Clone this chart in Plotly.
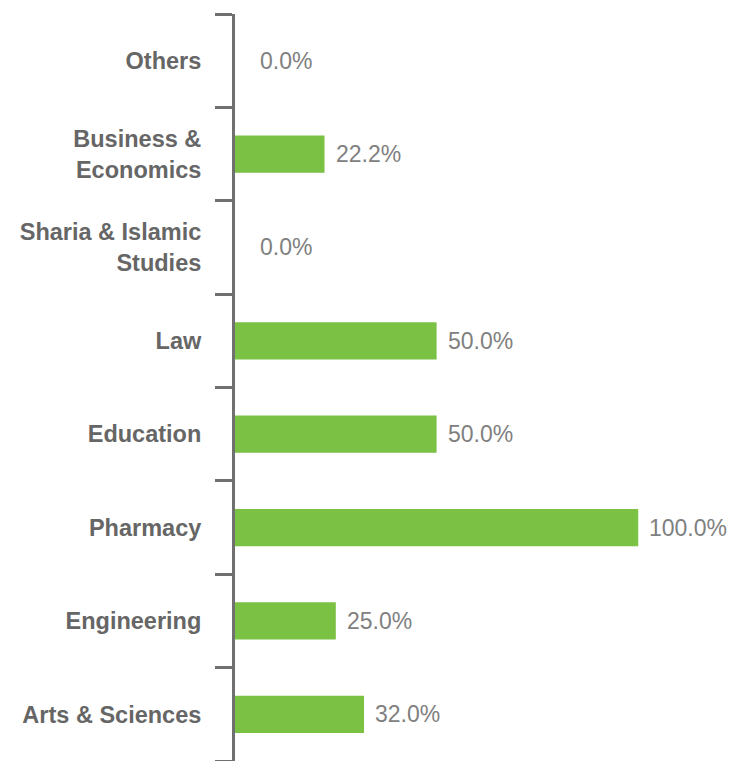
import plotly.graph_objects as go

categories = ["Arts & Sciences", "Engineering", "Pharmacy", "Education", "Law",
              "Sharia & Islamic<br>Studies", "Business &<br>Economics", "Others"]
values = [32.0, 25.0, 100.0, 50.0, 50.0, 0.0, 22.2, 0.0]

bar_color = "#7BC143"
axis_color = "#707070"
label_color = "#666666"
value_color = "#808080"

fig = go.Figure()
fig.add_trace(go.Bar(
    x=values, y=categories, orientation="h",
    marker=dict(color=bar_color, line=dict(width=0)),
    hoverinfo="skip",
))

for c, v in zip(categories, values):
    fig.add_annotation(
        x=v, y=c, xref="x", yref="y", text=f"{v:.1f}%",
        showarrow=False, xanchor="left", yanchor="middle",
        xshift=9 if v > 0 else 23,
        font=dict(family="Liberation Sans, Arial, sans-serif", size=23, color=value_color),
    )

fig.update_layout(
    width=727, height=753,
    margin=dict(l=227, r=0, t=6, b=0),
    paper_bgcolor="white", plot_bgcolor="white",
    bargap=0.6,
    showlegend=False,
    xaxis=dict(visible=False, range=[0, 124], showgrid=False, zeroline=False),
    yaxis=dict(
        categoryorder="array", categoryarray=categories,
        showline=True, linecolor=axis_color, linewidth=3,
        ticks="outside", ticklen=17, tickwidth=3, tickcolor=axis_color,
        tickson="boundaries", showgrid=False, zeroline=False,
        ticklabelstandoff=26,
        tickfont=dict(family="Liberation Sans, Arial, sans-serif", size=23.5,
                      color=label_color, weight="bold"),
    ),
)

fig.write_html("out.html")
